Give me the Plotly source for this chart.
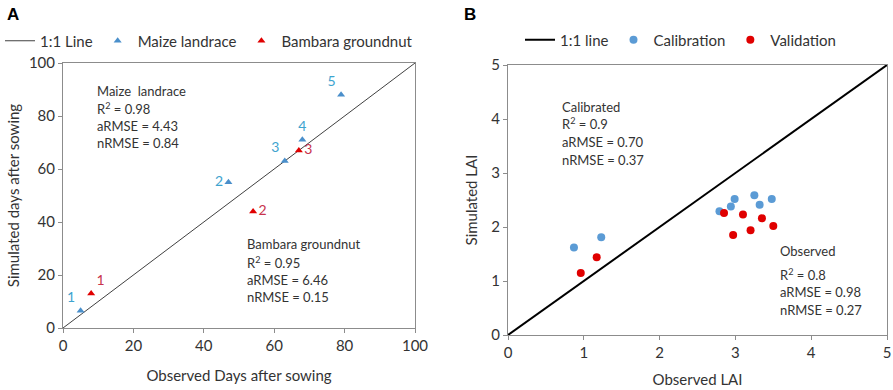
import plotly.graph_objects as go

# ---- Panel A data ----
maize_obs = [5, 47, 63, 68, 79]
maize_sim = [6.5, 55, 63, 71, 88]
maize_lbl = ["1", "2", "3", "4", "5"]
bambara_obs = [8, 54, 67]
bambara_sim = [13, 44, 67]
bambara_lbl = ["1", "2", "3"]
a_line = [0, 100]
a_ticks = [0, 20, 40, 60, 80, 100]

# ---- Panel B data ----
cal_obs = [0.87, 1.23, 2.79, 2.94, 2.99, 3.25, 3.32, 3.48]
cal_sim = [1.62, 1.81, 2.29, 2.38, 2.52, 2.59, 2.41, 2.52]
val_obs = [0.96, 1.17, 2.85, 2.97, 3.10, 3.20, 3.35, 3.50]
val_sim = [1.15, 1.44, 2.26, 1.85, 2.23, 1.94, 2.16, 2.02]
b_line = [0, 5]
b_ticks = [0, 1, 2, 3, 4, 5]

FONT = "Lato"
TXT = "#333333"
AXC = "#8c8c8c"

fig = go.Figure()

# Panel A
fig.add_trace(go.Scatter(x=a_line, y=a_line, mode="lines", name="1:1 Line",
                         line=dict(color="#404040", width=1), xaxis="x", yaxis="y", legend="legend"))
fig.add_trace(go.Scatter(x=maize_obs, y=maize_sim, mode="markers+text", name="Maize landrace",
                         text=maize_lbl,
                         textposition=["top left", "middle left", "top left", "top center", "top left"],
                         textfont=dict(color="#3ea4cf", size=14, family=FONT),
                         marker=dict(symbol="triangle-up", size=7, color="#4a8fcb"),
                         xaxis="x", yaxis="y", legend="legend"))
fig.add_trace(go.Scatter(x=bambara_obs, y=bambara_sim, mode="markers+text", name="Bambara groundnut",
                         text=bambara_lbl,
                         textposition=["top right", "middle right", "middle right"],
                         textfont=dict(color="#c8334d", size=14, family=FONT),
                         marker=dict(symbol="triangle-up", size=7, color="#e00000"),
                         xaxis="x", yaxis="y", legend="legend"))

# Panel B
fig.add_trace(go.Scatter(x=b_line, y=b_line, mode="lines", name="1:1 line",
                         line=dict(color="black", width=2), xaxis="x2", yaxis="y2", legend="legend2"))
fig.add_trace(go.Scatter(x=cal_obs, y=cal_sim, mode="markers", name="Calibration",
                         marker=dict(symbol="circle", size=8, color="#5b9bd5"),
                         xaxis="x2", yaxis="y2", legend="legend2"))
fig.add_trace(go.Scatter(x=val_obs, y=val_sim, mode="markers", name="Validation",
                         marker=dict(symbol="circle", size=8, color="#e00000"),
                         xaxis="x2", yaxis="y2", legend="legend2"))

axis_common = dict(showgrid=False, zeroline=False, showline=True, linecolor=AXC, linewidth=1,
                   mirror=True, ticks="outside", ticklen=4, tickcolor=AXC, automargin=False,
                   tickfont=dict(size=15, color=TXT, family=FONT))

fig.update_layout(
    width=893, height=390,
    margin=dict(l=0, r=0, t=0, b=0, autoexpand=False),
    paper_bgcolor="white", plot_bgcolor="white",
    font=dict(family=FONT, color=TXT),
    xaxis=dict(domain=[63/893, 415/893], range=[0, 100], tickvals=a_ticks, anchor="y",
               title=dict(text="Observed Days after sowing", font=dict(size=15), standoff=17),
               **axis_common),
    yaxis=dict(domain=[1-328/390, 1-63/390], range=[0, 100], tickvals=a_ticks, anchor="x",
               title=dict(text="Simulated days after sowing", font=dict(size=15), standoff=5),
               **axis_common),
    xaxis2=dict(domain=[508/893, 887/893], range=[0, 5], tickvals=b_ticks, anchor="y2",
                title=dict(text="Observed LAI", font=dict(size=15), standoff=14),
                **axis_common),
    yaxis2=dict(domain=[1-335/390, 1-65/390], range=[0, 5], tickvals=b_ticks, anchor="x2",
                title=dict(text="Simulated LAI", font=dict(size=15), standoff=10),
                **axis_common),
    legend=dict(orientation="h", xref="container", yref="container",
                x=-25/893, y=1-41/390, xanchor="left", yanchor="middle",
                font=dict(size=15, color=TXT, family=FONT), bgcolor="rgba(0,0,0,0)",
                itemwidth=30, tracegroupgap=0),
    legend2=dict(orientation="h", xref="container", yref="container",
                 x=520/893, y=1-40/390, xanchor="left", yanchor="middle",
                 font=dict(size=15, color=TXT, family=FONT), bgcolor="rgba(0,0,0,0)",
                 itemwidth=30),
    showlegend=True,
)

ann_font = dict(size=13, color=TXT, family=FONT)
notes = [
    ("Maize  landrace", 95, 91), ("R<sup>2</sup> = 0.98", 95, 108),
    ("aRMSE = 4.43", 95, 126), ("nRMSE = 0.84", 95, 143),
    ("Bambara groundnut", 245, 244), ("R<sup>2</sup> = 0.95", 245, 262),
    ("aRMSE = 6.46", 245, 280), ("nRMSE = 0.15", 245, 297),
    ("Calibrated", 560, 107), ("R<sup>2</sup> = 0.9", 560, 124),
    ("aRMSE = 0.70", 560, 142), ("nRMSE = 0.37", 560, 160),
    ("Observed", 778, 251), ("R<sup>2</sup> = 0.8", 778, 274),
    ("aRMSE = 0.98", 778, 292), ("nRMSE = 0.27", 778, 310),
]
for t, px, py in notes:
    fig.add_annotation(text=t, xref="paper", yref="paper", x=px/893, y=1-py/390,
                       xanchor="left", yanchor="middle", showarrow=False, font=ann_font)

fig.add_annotation(text="<b>A</b>", xref="paper", yref="paper", x=5/893, y=1-15/390,
                   xanchor="left", yanchor="middle", showarrow=False,
                   font=dict(size=17, color="black", family="Liberation Sans"))
fig.add_annotation(text="<b>B</b>", xref="paper", yref="paper", x=462/893, y=1-15/390,
                   xanchor="left", yanchor="middle", showarrow=False,
                   font=dict(size=17, color="black", family="Liberation Sans"))

fig.write_html("out.html", config={"displayModeBar": False},
               post_script="document.body.style.margin='0';document.body.style.overflow='hidden';")
